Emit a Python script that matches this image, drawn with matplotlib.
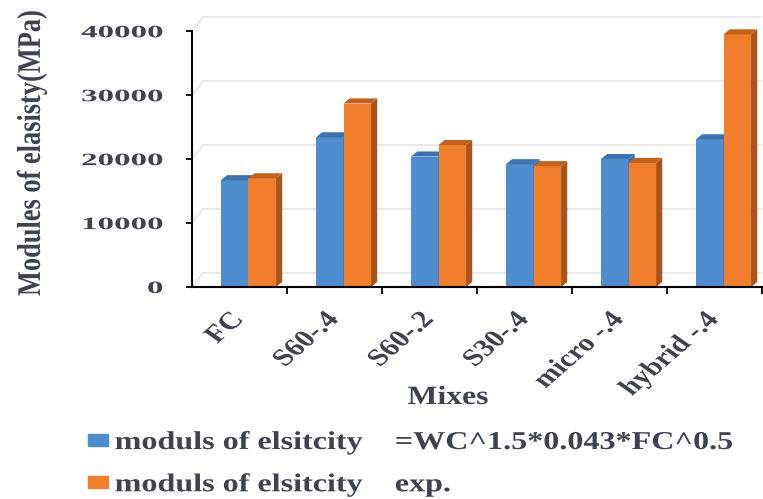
import numpy as np
import matplotlib
matplotlib.use('Agg')
import matplotlib.pyplot as plt
from matplotlib.patches import Polygon, Patch
from matplotlib.patheffects import AbstractPathEffect
from matplotlib.transforms import Affine2D
from matplotlib.font_manager import FontProperties

# ── Data ──────────────────────────────────────────────────────────────────────

mixes      = ['FC', 'S60-.4', 'S60-.2', 'S30-.4', 'micro -.4', 'hybrid -.4']
e_formula  = [16700, 23400, 20400, 19200, 20000, 23100]   # WC^1.5*0.043*FC^0.5
e_measured = [17000, 28700, 22200, 18900, 19400, 39500]   # experimental
y_ticks    = [0, 10000, 20000, 30000, 40000]

series_labels = ['moduls of elsitcity    =WC^1.5*0.043*FC^0.5',
                 'moduls of elsitcity    exp.']

# ── Style ─────────────────────────────────────────────────────────────────────

TEXT_COL = '#3f4350'
BLUE     = ('#4f8dd0', '#3a6ea8', '#3c73b0')   # front, side, top
ORANGE   = ('#f07e2b', '#a8541b', '#c3611f')
GRID_COL = '#e8e8e8'
SERIF    = 'Liberation Serif'

DEPTH_X = 0.065    # 3-D depth of a column, x data units
DEPTH_Y = 800      # 3-D depth of a column, y data units
WALL_X  = 0.115    # back wall offset
WALL_Y  = 2190


class Widen(AbstractPathEffect):
    """Stretch text glyphs horizontally about one side of their extent."""

    def __init__(self, sx, pivot='center'):
        super().__init__()
        self._sx = sx
        self._pivot = pivot

    def draw_path(self, renderer, gc, tpath, affine, rgbFace=None):
        bb = tpath.get_extents(affine)
        px = {'left': bb.x0, 'right': bb.x1,
              'center': 0.5 * (bb.x0 + bb.x1)}[self._pivot]
        affine = affine + Affine2D().translate(-px, 0).scale(self._sx, 1).translate(px, 0)
        renderer.draw_path(gc, tpath, affine, rgbFace)


def column(ax, x0, width, value, cols, z):
    """Front face via ax.bar, plus side and top faces for the 3-D look."""
    front, side, top = cols
    ax.bar(x0, value, width=width, align='edge', color=front,
           edgecolor='none', zorder=z)
    x1 = x0 + width
    ax.add_patch(Polygon([(x1, 0), (x1 + DEPTH_X, DEPTH_Y),
                          (x1 + DEPTH_X, value + DEPTH_Y), (x1, value)],
                         closed=True, color=side, lw=0, zorder=z))
    ax.add_patch(Polygon([(x0, value), (x0 + DEPTH_X, value + DEPTH_Y),
                          (x1 + DEPTH_X, value + DEPTH_Y), (x1, value)],
                         closed=True, color=top, lw=0, zorder=z))


# ── Figure ────────────────────────────────────────────────────────────────────

fig = plt.figure(figsize=(7.63, 4.99), dpi=100)
ax = fig.add_axes([0.2516, 0.4248, 0.7471, 0.551])

n = len(mixes)
ax.set_xlim(-0.5, n - 0.5)
ax.set_ylim(0, 43000)

# back wall gridlines with the short diagonal running to the front axis
for v in y_ticks:
    ax.plot([-0.5 + WALL_X, n - 0.5], [v + WALL_Y, v + WALL_Y],
            color=GRID_COL, lw=1.3, zorder=1, solid_capstyle='butt')
    ax.plot([-0.5, -0.5 + WALL_X], [v, v + WALL_Y],
            color=GRID_COL, lw=1.3, zorder=1)

bar_w = 0.29
for i in range(n):
    column(ax, i - 0.195, bar_w, e_formula[i], BLUE, 3)
    column(ax, i + 0.095, bar_w, e_measured[i], ORANGE, 4)

# axes
for side in ['top', 'right']:
    ax.spines[side].set_visible(False)
ax.spines['left'].set_bounds(0, 40000)
ax.spines['left'].set_linewidth(1.5)
ax.spines['bottom'].set_linewidth(1.5)
ax.spines['left'].set_zorder(6)
ax.spines['bottom'].set_zorder(6)

ax.set_yticks(y_ticks)
ax.set_yticklabels([str(t) for t in y_ticks])
ax.tick_params(axis='y', length=4, width=1.3, pad=17, labelsize=12.5,
               labelcolor=TEXT_COL)
for lbl in ax.get_yticklabels():
    lbl.set_fontfamily(SERIF)
    lbl.set_fontweight('bold')
    lbl.set_path_effects([Widen(1.9, 'right')])

ax.set_xticks(np.arange(n) + 0.5)
ax.set_xticklabels([''] * n)
ax.tick_params(axis='x', length=5, width=1.3)

# category labels, slanted
for i, name in enumerate(mixes):
    ax.text(i - 0.075, -0.081, name, transform=ax.get_xaxis_transform(),
            rotation=48, rotation_mode='anchor', ha='right', va='top',
            fontsize=17.5, fontfamily=SERIF, fontweight='bold', color=TEXT_COL,
            path_effects=[Widen(1.28, 'right')])

fig.text(448 / 763, 1 - 404 / 499, 'Mixes', ha='center', va='baseline',
         fontsize=19, fontfamily=SERIF, fontweight='bold', color=TEXT_COL,
         path_effects=[Widen(1.2, 'center')])

fig.text(32 / 763, 1 - 153 / 499, 'Modules of elasisty(MPa)', rotation=90,
         ha='center', va='center', fontsize=19, fontfamily=SERIF,
         fontweight='bold', color=TEXT_COL, path_effects=[Widen(1.25, 'center')])

# legend
handles = [Patch(color=BLUE[0]), Patch(color=ORANGE[0])]
leg = fig.legend(handles, series_labels, loc='upper left',
                 bbox_to_anchor=(0.0983, 0.162), frameon=False, borderpad=0,
                 handlelength=0.78, handleheight=0.33, handletextpad=0.27,
                 labelspacing=0.75,
                 prop=FontProperties(family=SERIF, weight='bold', size=18.5))
for t in leg.get_texts():
    t.set_color(TEXT_COL)
    t.set_path_effects([Widen(1.25, 'left')])

fig.savefig('out.png', dpi=100)
